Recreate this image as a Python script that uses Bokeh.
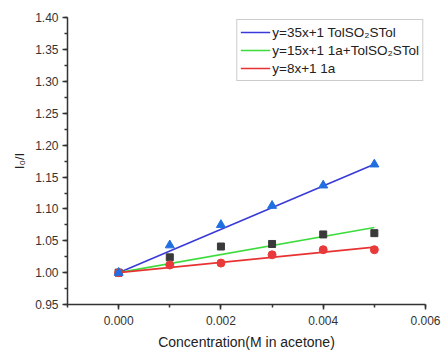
from bokeh.plotting import figure
from bokeh.models import (SingleIntervalTicker, NumeralTickFormatter, Legend, LegendItem, Range1d)
from bokeh.embed import file_html
from bokeh.resources import INLINE

conc = [0.0, 0.001, 0.002, 0.003, 0.004, 0.005]
tol_vals = [1.000, 1.043, 1.075, 1.105, 1.137, 1.170]
mix_vals = [1.000, 1.024, 1.041, 1.045, 1.060, 1.062]
a1_vals = [1.000, 1.012, 1.015, 1.028, 1.036, 1.036]

fit_x = [0.0, 0.005]
tol_fit = [1.000, 1.170]
mix_fit = [1.000, 1.071]
a1_fit = [1.000, 1.040]

labels = ["y=35x+1 TolSO\u2082STol", "y=15x+1 1a+TolSO\u2082STol", "y=8x+1 1a"]

FONT = "Liberation Sans"

p = figure(width=442, height=352, output_backend="svg", toolbar_location=None,
           x_range=Range1d(-0.001, 0.006), y_range=Range1d(0.95, 1.4005),
           min_border_left=67, min_border_right=17, min_border_top=17, min_border_bottom=46)
p.outline_line_color = None
p.xgrid.visible = False
p.ygrid.visible = False

l_tol = p.line(fit_x, tol_fit, line_color="#3a3ad8", line_width=1.6)
l_mix = p.line(fit_x, mix_fit, line_color="#3ddc3d", line_width=1.6)
l_a1 = p.line(fit_x, a1_fit, line_color="#e83232", line_width=1.6)

p.scatter(conc, mix_vals, marker="square", size=7, fill_color="#3a3a3a", line_color="#3a3a3a")
p.scatter(conc, a1_vals, marker="circle", size=8, fill_color="#e83a3a", line_color="#e83a3a")
p.scatter(conc, tol_vals, marker="triangle", size=9, fill_color="#1f6fe0", line_color="#1f6fe0")

legend = Legend(items=[LegendItem(label=labels[0], renderers=[l_tol]),
                       LegendItem(label=labels[1], renderers=[l_mix]),
                       LegendItem(label=labels[2], renderers=[l_a1])],
                location="top_right")
legend.margin = 2
legend.padding = 3
legend.spacing = 0
legend.glyph_width = 30
legend.glyph_height = 18
legend.label_height = 18
legend.label_standoff = 2
legend.label_text_font = FONT
legend.label_text_font_size = "13.5px"
legend.label_text_color = "#222222"
legend.border_line_color = "#999999"
legend.border_line_width = 1
legend.background_fill_alpha = 1.0
p.add_layout(legend)

for ax in (p.xaxis[0], p.yaxis[0]):
    ax.axis_line_color = "#333333"
    ax.axis_line_width = 1.5
    ax.major_tick_line_color = "#333333"
    ax.minor_tick_line_color = "#333333"
    ax.major_tick_line_width = 1.5
    ax.minor_tick_line_width = 1.5
    ax.major_tick_out = 5
    ax.major_tick_in = 0
    ax.minor_tick_out = 3
    ax.minor_tick_in = 0
    ax.major_label_text_font = FONT
    ax.major_label_text_font_size = "12px"
    ax.major_label_text_color = "#333333"
    ax.axis_label_text_font = FONT
    ax.axis_label_text_font_style = "normal"
    ax.axis_label_text_color = "#222222"

p.xaxis[0].ticker = SingleIntervalTicker(interval=0.002, num_minor_ticks=2)
p.xaxis[0].formatter = NumeralTickFormatter(format="0.000")
p.xaxis[0].axis_label = "Concentration(M in acetone)"
p.xaxis[0].axis_label_text_font_size = "14px"
p.xaxis[0].major_label_standoff = 6
p.xaxis[0].axis_label_standoff = 6

p.yaxis[0].ticker = SingleIntervalTicker(interval=0.05, num_minor_ticks=2)
p.yaxis[0].formatter = NumeralTickFormatter(format="0.00")
p.yaxis[0].axis_label = "I\u2080/I"
p.yaxis[0].axis_label_text_font_size = "13px"
p.yaxis[0].major_label_standoff = 4

open("out.html", "w").write(file_html(p, INLINE))
